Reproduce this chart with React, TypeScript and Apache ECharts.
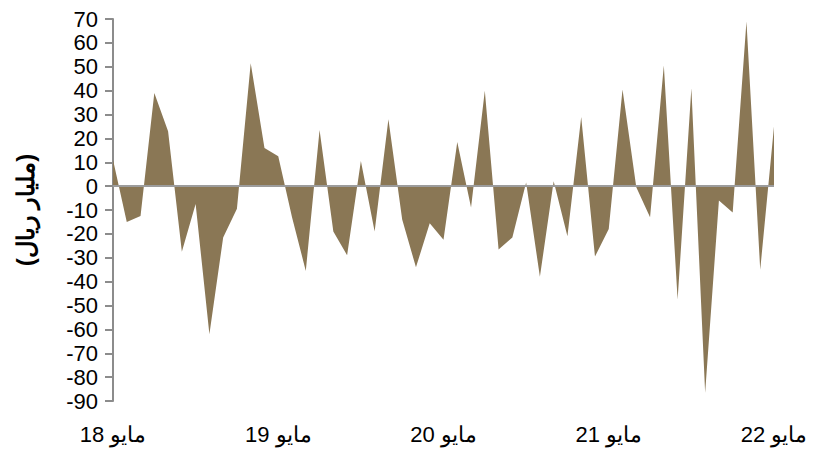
import React, { useEffect, useRef } from "react";
import * as echarts from "echarts";

const monthNames = ["يناير", "فبراير", "مارس", "أبريل", "مايو", "يونيو", "يوليو", "أغسطس", "سبتمبر", "أكتوبر", "نوفمبر", "ديسمبر"];
const startMonth = 4; // May
const startYear = 18;
const values = [
  11, -15, -12.5, 39, 23, -27.5, -7.5, -62, -21.5, -9.5, 51.5, 16,
  12.5, -13, -35.5, 23.5, -19, -29, 10.5, -19, 28, -14, -34, -15.5,
  -22.5, 18.5, -9, 40, -26.5, -21.5, 1.5, -38, 2, -21, 29, -29.5,
  -18, 40.5, -0.5, -13, 50.5, -47.5, 41, -86.5, -6, -11, 69, -35,
  25,
];
const categories = values.map((_, i) => {
  const m = (startMonth + i) % 12;
  const y = startYear + Math.floor((startMonth + i) / 12);
  return `${monthNames[m]} ${y}`;
});
const yAxisName = "(مليار ريال)";

export default function App() {
  const ref = useRef<HTMLDivElement>(null);
  useEffect(() => {
    if (!ref.current) return;
    const chart = echarts.init(ref.current, undefined, { renderer: "svg" });
    const font = "'Liberation Sans', Arial, sans-serif";
    chart.setOption({
      animation: false,
      backgroundColor: "#ffffff",
      grid: { left: 113, right: 40, top: 19, bottom: 53, containLabel: false },
      xAxis: {
        type: "category",
        data: categories,
        boundaryGap: false,
        axisLine: { show: false, onZero: false },
        axisTick: { show: false },
        axisLabel: {
          interval: 11,
          margin: 22,
          color: "#000",
          fontSize: 22,
          fontFamily: font,
        },
        splitLine: { show: false },
      },
      yAxis: {
        type: "value",
        min: -90,
        max: 70,
        interval: 10,
        name: yAxisName,
        nameLocation: "middle",
        nameRotate: 90,
        nameGap: 76,
        nameTextStyle: { color: "#000", fontSize: 24, fontWeight: "bold", fontFamily: font },
        axisLine: { show: true, onZero: false, lineStyle: { color: "#8C8C8C", width: 2 } },
        axisTick: { show: true, inside: false, length: 8, lineStyle: { color: "#8C8C8C", width: 2 } },
        axisLabel: { color: "#000", fontSize: 22, margin: 15, fontFamily: font },
        splitLine: { show: false },
      },
      series: [
        {
          type: "line",
          data: values,
          showSymbol: false,
          symbol: "none",
          lineStyle: { width: 0, color: "#8A7755" },
          areaStyle: { color: "#8A7755", opacity: 1, origin: 0 },
          markLine: {
            silent: true,
            symbol: "none",
            label: { show: false },
            lineStyle: { color: "#9C9C9C", width: 2, type: "solid" },
            data: [{ yAxis: 0 }],
          },
        },
      ],
    });
    return () => chart.dispose();
  }, []);
  return (
    <div
      ref={ref}
      style={{ position: "fixed", left: 0, top: 0, width: 814, height: 454 }}
    />
  );
}
